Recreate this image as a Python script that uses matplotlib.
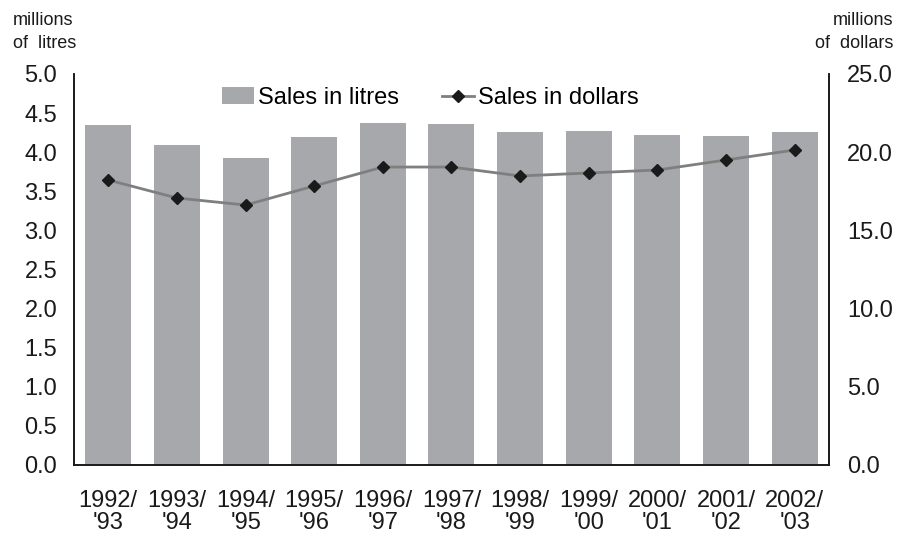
import matplotlib
matplotlib.use("Agg")
import matplotlib.pyplot as plt

plt.rcParams['font.family'] = ['Liberation Sans', 'DejaVu Sans']

years = ["1992/\n'93", "1993/\n'94", "1994/\n'95", "1995/\n'96", "1996/\n'97", "1997/\n'98",
         "1998/\n'99", "1999/\n'00", "2000/\n'01", "2001/\n'02", "2002/\n'03"]
litres = [4.35, 4.09, 3.93, 4.19, 4.37, 4.36, 4.26, 4.27, 4.22, 4.21, 4.26]
dollars = [18.22, 17.07, 16.62, 17.84, 19.05, 19.05, 18.48, 18.67, 18.86, 19.5, 20.14]

fig = plt.figure(figsize=(9.11, 5.38), dpi=100)
ax = fig.add_axes([0.0812, 0.1357, 0.8288, 0.7268])
ax2 = ax.twinx()

x = list(range(len(years)))
bars = ax.bar(x, litres, width=0.67, color='#a7a8ab', label='Sales in litres', zorder=1)
line, = ax2.plot(x, dollars, color='#7f7f7f', linewidth=2, marker='D', markersize=6.5,
                 markerfacecolor='#1a1a1a', markeredgecolor='#1a1a1a', label='Sales in dollars')

ax.set_xlim(-0.5, 10.5)
ax.set_ylim(0, 5.0)
ax2.set_ylim(0, 25.0)
ax.set_yticks([i * 0.5 for i in range(11)])
ax.set_yticklabels([f"{i * 0.5:.1f}" for i in range(11)])
ax2.set_yticks([0, 5, 10, 15, 20, 25])
ax2.set_yticklabels([f"{v:.1f}" for v in [0, 5, 10, 15, 20, 25]])
ax.set_xticks(x)
ax.set_xticklabels(years, linespacing=1.0)

ax.tick_params(axis='y', length=0, pad=12, labelsize=17, colors='#1a1a1a')
ax.tick_params(axis='x', length=0, pad=18, labelsize=17, colors='#1a1a1a')
ax2.tick_params(axis='y', length=0, pad=13, labelsize=17, colors='#1a1a1a')

for a in (ax, ax2):
    a.spines['top'].set_visible(False)
    for s in ('left', 'right', 'bottom'):
        a.spines[s].set_color('#1a1a1a')
        a.spines[s].set_linewidth(1.2)

fig.text(13 / 911, 1 - 12 / 538, "millions\nof  litres", ha='left', va='top', fontsize=13,
         color='#1a1a1a', linespacing=1.5)
fig.text(893 / 911, 1 - 12 / 538, "millions\nof  dollars", ha='right', va='top', fontsize=13,
         color='#1a1a1a', linespacing=1.5)

ax2.legend([bars, line], ['Sales in litres', 'Sales in dollars'], loc='center',
           bbox_to_anchor=(0.472, 0.939), ncol=2, frameon=False, fontsize=17,
           handlelength=1.35, columnspacing=1.8, handletextpad=0.2)

plt.savefig("out.png", dpi=100)
plt.close()
